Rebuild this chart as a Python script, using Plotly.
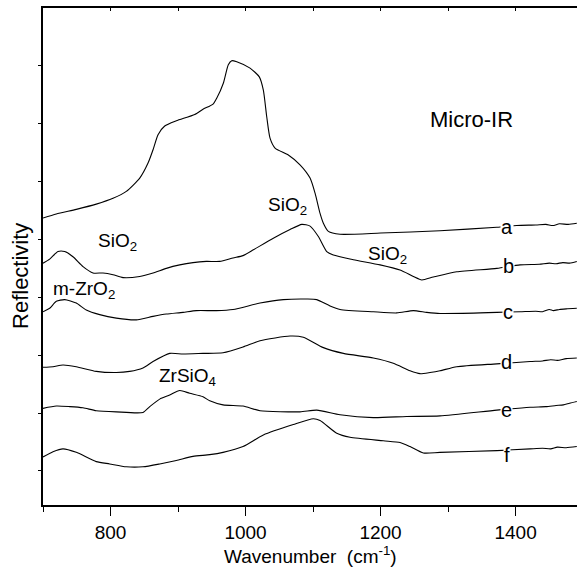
import plotly.graph_objects as go

# ---- data (wavenumber in cm^-1, reflectivity in arbitrary offset units) ----
a_x = [700, 719.7, 749.3, 778.9, 803.7, 823.4, 843.3, 855.6, 863, 870.4, 880.3, 897.5, 924.7, 937, 951.9,
       957.3, 967.1, 974.5, 979.6, 987, 1006.7, 1020.4, 1026.4, 1031.4, 1036.3, 1043.7, 1063.4, 1080.7,
       1095.6, 1103, 1110.4, 1115.3, 1122.7, 1140, 1200, 1288.1, 1372.2, 1401.8, 1430, 1445, 1455, 1465, 1478, 1490.7]
a_y = [5.37, 5.44, 5.52, 5.61, 5.71, 5.83, 6.06, 6.32, 6.55, 6.81, 6.96, 7.05, 7.16, 7.25, 7.34,
       7.44, 7.70, 8.02, 8.09, 8.07, 7.96, 7.81, 7.58, 7.12, 6.75, 6.58, 6.46, 6.29,
       6.06, 5.80, 5.45, 5.28, 5.14, 5.09, 5.11, 5.15, 5.21, 5.24, 5.25, 5.26, 5.24, 5.27, 5.26, 5.28]

b_x = [700, 709.9, 722.2, 732.1, 744.4, 759.3, 774.1, 788.9, 803.7, 818.5, 843.3, 863, 882.7, 902.5, 922.2,
       941.9, 961.8, 981.5, 996.3, 1011.6, 1041.2, 1065.9, 1083.3, 1095.6, 1107.9, 1120.3, 1130.1, 1159.7,
       1199.3, 1228.9, 1248.6, 1261.1, 1278.2, 1312.9, 1372.2, 1406.7, 1435, 1450, 1460, 1470, 1480, 1490.7]
b_y = [4.59, 4.66, 4.79, 4.79, 4.70, 4.53, 4.42, 4.42, 4.39, 4.34, 4.36, 4.42, 4.50, 4.56, 4.60,
       4.62, 4.62, 4.68, 4.72, 4.82, 5.02, 5.17, 5.26, 5.23, 5.05, 4.79, 4.73, 4.65,
       4.56, 4.47, 4.36, 4.30, 4.35, 4.44, 4.50, 4.56, 4.57, 4.59, 4.58, 4.60, 4.59, 4.62]

c_x = [700, 709.9, 719.7, 732.1, 749.3, 764.1, 784, 808.6, 838.2, 863, 882.7, 907.4, 927.1, 956.7, 981.5,
       1021.5, 1056, 1090.7, 1105.5, 1125.2, 1140, 1189.3, 1224, 1248.6, 1268.4, 1288.1, 1347.4, 1372.2,
       1406.7, 1430, 1440, 1450, 1456, 1465, 1475, 1490.7]
c_y = [3.75, 3.81, 3.93, 3.96, 3.90, 3.78, 3.70, 3.64, 3.61, 3.67, 3.71, 3.74, 3.77, 3.77, 3.79,
       3.90, 3.96, 3.97, 3.96, 3.85, 3.79, 3.75, 3.73, 3.77, 3.74, 3.72, 3.73, 3.74,
       3.75, 3.76, 3.75, 3.79, 3.77, 3.79, 3.80, 3.81]

d_x = [700, 714.8, 729.6, 749.3, 778.9, 808.6, 828.4, 848.1, 863, 887.7, 907.4, 937, 966.7, 996.3, 1021.5,
       1065.9, 1085.6, 1115.3, 1144.9, 1189.3, 1218.9, 1243.7, 1258.5, 1273.3, 1288.1, 1312.9, 1372.2,
       1421.5, 1440, 1452, 1462, 1475, 1490.7]
d_y = [2.79, 2.80, 2.83, 2.80, 2.72, 2.70, 2.72, 2.78, 2.89, 3.03, 3.02, 3.03, 3.04, 3.14, 3.25,
       3.33, 3.31, 3.13, 3.03, 2.95, 2.86, 2.73, 2.68, 2.70, 2.73, 2.80, 2.85,
       2.89, 2.90, 2.92, 2.91, 2.94, 2.95]

e_x = [700, 719.7, 739.6, 759.3, 778.9, 808.6, 848.1, 858.1, 872.9, 887.7, 902.5, 917.3, 937, 947, 966.7,
       996.3, 1021.5, 1080.7, 1105.5, 1140, 1189.3, 1238.6, 1288.1, 1372.2, 1421.5, 1445, 1460, 1470.8, 1480, 1490.7]
e_y = [2.08, 2.12, 2.11, 2.09, 2.04, 2.02, 2.01, 2.11, 2.24, 2.31, 2.39, 2.34, 2.28, 2.21, 2.14,
       2.12, 2.04, 2.02, 2.05, 1.97, 1.92, 1.94, 1.95, 2.05, 2.10, 2.11, 2.13, 2.14, 2.17, 2.20]

f_x = [700, 714.8, 729.6, 749.3, 778.9, 798.8, 823.4, 848.1, 872.9, 897.5, 922.2, 947, 966.7, 996.3, 1026.4,
       1070.8, 1100.4, 1110.4, 1135.1, 1154.8, 1204.1, 1228.9, 1243.7, 1263.4, 1288.1, 1372.2, 1421.5,
       1440, 1452, 1462, 1475, 1490.7]
f_y = [1.24, 1.33, 1.38, 1.32, 1.16, 1.12, 1.07, 1.07, 1.12, 1.18, 1.25, 1.28, 1.32, 1.42, 1.62,
       1.80, 1.90, 1.87, 1.65, 1.58, 1.52, 1.49, 1.42, 1.31, 1.32, 1.35, 1.38,
       1.39, 1.38, 1.41, 1.40, 1.42]

series = [(a_x, a_y), (b_x, b_y), (c_x, c_y), (d_x, d_y), (e_x, e_y), (f_x, f_y)]

curve_labels = ["a", "b", "c", "d", "e", "f"]
curve_label_x = [1387, 1389, 1389, 1387, 1387, 1387]
curve_label_y = [5.22, 4.54, 3.74, 2.89, 2.05, 1.28]

peak_texts = ["SiO<sub>2</sub>", "SiO<sub>2</sub>", "SiO<sub>2</sub>", "m-ZrO<sub>2</sub>", "ZrSiO<sub>4</sub>"]
peak_x = [811, 1062, 1211, 760, 914]
peak_y = [4.96, 5.58, 4.73, 4.13, 2.62]

title_text = "Micro-IR"
title_x = 1334
title_y = 7.07

x_range = [700, 1491]
y_range = [0.41, 9.0]
y_ticks = [1, 2, 3, 4, 5, 6, 7, 8]

FONT = "Liberation Sans, Arial, sans-serif"

fig = go.Figure()
for sx, sy in series:
    fig.add_trace(go.Scatter(x=sx, y=sy, mode="lines",
                             line=dict(color="black", width=1.1, shape="spline", smoothing=0.6),
                             hoverinfo="skip", showlegend=False))
# invisible trace to activate the top axis
fig.add_trace(go.Scatter(x=[x_range[0]], y=[None], xaxis="x2", mode="lines", showlegend=False, hoverinfo="skip"))

annotations = []
for t, x, y in zip(curve_labels, curve_label_x, curve_label_y):
    annotations.append(dict(x=x, y=y, text=t, showarrow=False, bgcolor="white", borderpad=0,
                            font=dict(family=FONT, size=20, color="black")))
for t, x, y in zip(peak_texts, peak_x, peak_y):
    annotations.append(dict(x=x, y=y, text=t, showarrow=False,
                            font=dict(family=FONT, size=19, color="black")))
annotations.append(dict(x=title_x, y=title_y, text=title_text, showarrow=False,
                        font=dict(family=FONT, size=22, color="black")))
annotations.append(dict(xref="paper", yref="paper", x=0.5, y=-0.072, yanchor="top",
                        text="Wavenumber&nbsp; (cm<sup>-1</sup>)", showarrow=False,
                        font=dict(family=FONT, size=19, color="black")))
annotations.append(dict(xref="paper", yref="paper", x=-0.041, y=0.461, xanchor="center", yanchor="middle",
                        text="Reflectivity", textangle=-90, showarrow=False,
                        font=dict(family=FONT, size=22, color="black")))

fig.update_layout(
    width=577, height=572,
    margin=dict(l=43, r=0, t=8, b=67),
    plot_bgcolor="white", paper_bgcolor="white",
    font=dict(family=FONT, size=19, color="black"),
    annotations=annotations,
    xaxis=dict(range=x_range, tickvals=[800, 1000, 1200, 1400], ticks="outside", ticklen=9, tickwidth=1.3,
               tickcolor="black", showline=True, linecolor="black", linewidth=2, showgrid=False, zeroline=False,
               tickfont=dict(family=FONT, size=19),
               minor=dict(tickvals=[700, 900, 1100, 1300], ticks="outside", ticklen=5, tickwidth=1.3,
                          tickcolor="black", showgrid=False)),
    xaxis2=dict(range=x_range, overlaying="x", side="top", tickvals=[700, 800, 900, 1000, 1100, 1200, 1300, 1400],
                ticks="inside", ticklen=3, tickwidth=1.3, tickcolor="black", showticklabels=False,
                showline=True, linecolor="black", linewidth=1.5, showgrid=False, zeroline=False),
    yaxis=dict(range=y_range, tickvals=y_ticks, ticks="outside", ticklen=3, tickwidth=1.3, tickcolor="black",
               showticklabels=False, showline=True, linecolor="black", linewidth=2, showgrid=False, zeroline=False),
)

fig.write_html("out.html")
